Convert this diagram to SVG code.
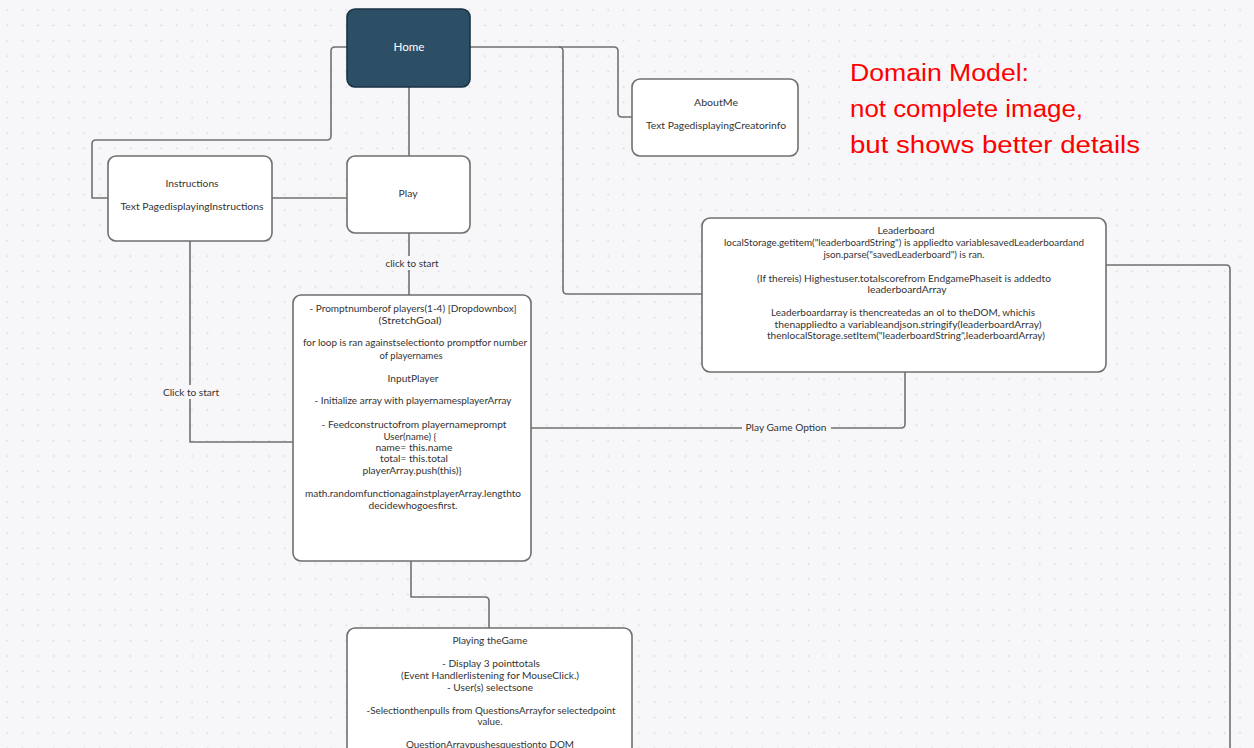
<svg xmlns="http://www.w3.org/2000/svg" width="1254" height="748" viewBox="0 0 1254 748">
<defs>
<pattern id="dots" x="0" y="0" width="15.41" height="15.38" patternUnits="userSpaceOnUse">
<circle cx="7.25" cy="10" r="0.9" fill="#d6d6dc"/>
</pattern>
<style>
.box{fill:#ffffff;stroke:#6f6f6f;stroke-width:1.6}
.home{fill:#2c4f66;stroke:#1a3344;stroke-width:1.6}
.t{font-family:Lato,"Liberation Sans",sans-serif;font-size:10px;fill:#333333;text-anchor:middle}
.ht{font-family:Lato,"Liberation Sans",sans-serif;font-size:12px;fill:#ffffff;text-anchor:middle}
.c{fill:none;stroke:#707070;stroke-width:1.6;stroke-linejoin:round}
.lbg{fill:#f7f7f9}
.red{font-family:"Liberation Sans",Arial,sans-serif;font-size:23px;fill:#ff0000}
</style>
</defs>
<rect width="1254" height="748" fill="#f7f7f9"/>
<rect width="1254" height="748" fill="url(#dots)"/>

<g id="connectors">
<path class="c" d="M347,47 H335 Q331,47 331,51 V136 Q331,140 327,140 H96 Q92,140 92,144 V198 H108"/>
<path class="c" d="M409,87 V156"/>
<path class="c" d="M470,47 H614 Q618,47 618,51 V113 Q618,117 622,117 H632"/>
<path class="c" d="M559,47 Q563,47 563,51 V290 Q563,294 567,294 H702"/>
<path class="c" d="M272,198 H347"/>
<path class="c" d="M409,233 V295"/>
<path class="c" d="M190,241 V442 H293"/>
<path class="c" d="M905,372 V424 Q905,428 901,428 H531"/>
<path class="c" d="M411,561 V597 H485 Q489,597 489,601 V628"/>
<path class="c" d="M1106,265 H1226 Q1230,265 1230,269 V748"/>
<rect class="lbg" x="384" y="256" width="58" height="14"/>
<text class="t" x="412" y="267" textLength="53" lengthAdjust="spacingAndGlyphs">click to start</text>
<rect class="lbg" x="161" y="385" width="62" height="14"/>
<text class="t" x="191" y="396" textLength="56" lengthAdjust="spacingAndGlyphs">Click to start</text>
<rect class="lbg" x="742" y="421" width="89" height="14"/>
<text class="t" x="786" y="431" textLength="81" lengthAdjust="spacingAndGlyphs">Play Game Option</text>
</g>

<g id="home">
<rect class="home" x="347" y="9" width="123" height="78" rx="8"/>
<text class="ht" x="409" y="51" textLength="31" lengthAdjust="spacingAndGlyphs">Home</text>
</g>

<g id="about-me">
<rect class="box" x="632" y="79" width="166" height="77" rx="8"/>
<text class="t" x="716" y="106" textLength="44" lengthAdjust="spacingAndGlyphs">AboutMe</text>
<text class="t" x="716" y="129" textLength="140" lengthAdjust="spacingAndGlyphs">Text PagedisplayingCreatorinfo</text>
</g>

<g id="instructions">
<rect class="box" x="108" y="156" width="164" height="85" rx="8"/>
<text class="t" x="192" y="187" textLength="53" lengthAdjust="spacingAndGlyphs">Instructions</text>
<text class="t" x="192" y="210" textLength="143" lengthAdjust="spacingAndGlyphs">Text PagedisplayingInstructions</text>
</g>

<g id="play">
<rect class="box" x="347" y="156" width="123" height="77" rx="8"/>
<text class="t" x="408" y="197" textLength="19" lengthAdjust="spacingAndGlyphs">Play</text>
</g>

<g id="input-player">
<rect class="box" x="293" y="295" width="238" height="266" rx="8"/>
<text class="t" x="413" y="312" textLength="207" lengthAdjust="spacingAndGlyphs">- Promptnumberof players(1-4) [Dropdownbox]</text>
<text class="t" x="410" y="324" textLength="63" lengthAdjust="spacingAndGlyphs">(StretchGoal)</text>
<text class="t" x="415" y="346" textLength="224" lengthAdjust="spacingAndGlyphs">for loop is ran againstselectionto promptfor number</text>
<text class="t" x="411" y="359" textLength="63" lengthAdjust="spacingAndGlyphs">of playernames</text>
<text class="t" x="413" y="382" textLength="51" lengthAdjust="spacingAndGlyphs">InputPlayer</text>
<text class="t" x="413" y="404" textLength="197" lengthAdjust="spacingAndGlyphs">- Initialize array with playernamesplayerArray</text>
<text class="t" x="414" y="428" textLength="185" lengthAdjust="spacingAndGlyphs">- Feedconstructofrom playernameprompt</text>
<text class="t" x="410" y="440" textLength="53" lengthAdjust="spacingAndGlyphs">User(name) {</text>
<text class="t" x="414" y="451" textLength="77" lengthAdjust="spacingAndGlyphs">name= this.name</text>
<text class="t" x="414" y="462" textLength="68" lengthAdjust="spacingAndGlyphs">total= this.total</text>
<text class="t" x="412" y="474" textLength="99" lengthAdjust="spacingAndGlyphs">playerArray.push(this)}</text>
<text class="t" x="413" y="497" textLength="216" lengthAdjust="spacingAndGlyphs">math.randomfunctionagainstplayerArray.lengthto</text>
<text class="t" x="413" y="509" textLength="89" lengthAdjust="spacingAndGlyphs">decidewhogoesfirst.</text>
</g>

<g id="leaderboard">
<rect class="box" x="702" y="218" width="404" height="154" rx="8"/>
<text class="t" x="906" y="234" textLength="57" lengthAdjust="spacingAndGlyphs">Leaderboard</text>
<text class="t" x="904" y="246" textLength="360" lengthAdjust="spacingAndGlyphs">localStorage.getitem("leaderboardString") is appliedto variablesavedLeaderboardand</text>
<text class="t" x="904" y="258" textLength="161" lengthAdjust="spacingAndGlyphs">json.parse("savedLeaderboard") is ran.</text>
<text class="t" x="904" y="282" textLength="294" lengthAdjust="spacingAndGlyphs">(If  thereis)  Highestuser.totalscorefrom EndgamePhaseit is addedto</text>
<text class="t" x="907" y="293" textLength="79" lengthAdjust="spacingAndGlyphs">leaderboardArray</text>
<text class="t" x="903" y="316" textLength="264" lengthAdjust="spacingAndGlyphs">Leaderboardarray is thencreatedas an ol to theDOM, whichis</text>
<text class="t" x="908" y="328" textLength="267" lengthAdjust="spacingAndGlyphs">thenappliedto a variableandjson.stringify(leaderboardArray)</text>
<text class="t" x="906" y="339" textLength="278" lengthAdjust="spacingAndGlyphs">thenlocalStorage.setItem("leaderboardString",leaderboardArray)</text>
</g>

<g id="playing-the-game">
<rect class="box" x="347" y="628" width="285" height="140" rx="8"/>
<text class="t" x="490" y="644" textLength="75" lengthAdjust="spacingAndGlyphs">Playing theGame</text>
<text class="t" x="491" y="667" textLength="98" lengthAdjust="spacingAndGlyphs">- Display 3 pointtotals</text>
<text class="t" x="490" y="679" textLength="178" lengthAdjust="spacingAndGlyphs">(Event Handlerlistening for MouseClick.)</text>
<text class="t" x="490" y="691" textLength="86" lengthAdjust="spacingAndGlyphs">- User(s) selectsone</text>
<text class="t" x="491" y="714" textLength="249" lengthAdjust="spacingAndGlyphs">-Selectionthenpulls from QuestionsArrayfor selectedpoint</text>
<text class="t" x="490" y="725" textLength="25" lengthAdjust="spacingAndGlyphs">value.</text>
<text class="t" x="490" y="748" textLength="168" lengthAdjust="spacingAndGlyphs">QuestionArraypushesquestionto DOM</text>
</g>

<g id="note">
<text class="red" x="850" y="81" textLength="179" lengthAdjust="spacingAndGlyphs">Domain Model:</text>
<text class="red" x="850" y="117" textLength="233" lengthAdjust="spacingAndGlyphs">not complete image,</text>
<text class="red" x="850" y="153" textLength="290" lengthAdjust="spacingAndGlyphs">but shows better details</text>
</g>
</svg>
